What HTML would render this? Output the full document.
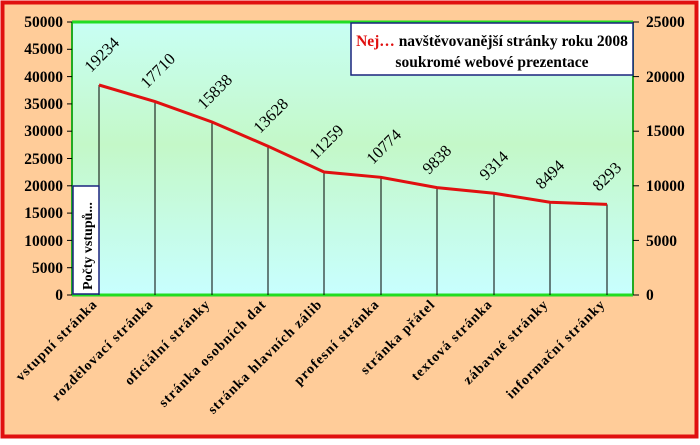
<!DOCTYPE html>
<html><head><meta charset="utf-8"><style>
body{margin:0;width:700px;height:440px;overflow:hidden;background:#fff}
</style></head><body>
<svg width="700" height="440" xmlns="http://www.w3.org/2000/svg" font-family="Liberation Serif, serif">
<defs>
<linearGradient id="g" x1="0" y1="0" x2="0" y2="1">
<stop offset="0" stop-color="#c8fff4"/>
<stop offset="0.45" stop-color="#c4f8c8"/>
<stop offset="1" stop-color="#c8ffff"/>
</linearGradient>
</defs>
<rect x="2.5" y="2.5" width="694" height="434" fill="#ffcc99" stroke="#e01010" stroke-width="4"/>
<rect x="72" y="22" width="561" height="273" fill="url(#g)"/>
<line x1="72" y1="22" x2="633" y2="22" stroke="#22dd22" stroke-width="3"/>
<line x1="72" y1="295" x2="633" y2="295" stroke="#22dd22" stroke-width="3"/>
<line x1="72" y1="22" x2="72" y2="295" stroke="#22aa22" stroke-width="2"/>
<line x1="633" y1="22" x2="633" y2="295" stroke="#22aa22" stroke-width="2"/>
<g stroke="#000" stroke-width="1">
<line x1="67" y1="22" x2="72" y2="22"/><line x1="67" y1="49.3" x2="72" y2="49.3"/><line x1="67" y1="76.6" x2="72" y2="76.6"/><line x1="67" y1="103.9" x2="72" y2="103.9"/><line x1="67" y1="131.2" x2="72" y2="131.2"/><line x1="67" y1="158.5" x2="72" y2="158.5"/><line x1="67" y1="185.8" x2="72" y2="185.8"/><line x1="67" y1="213.1" x2="72" y2="213.1"/><line x1="67" y1="240.4" x2="72" y2="240.4"/><line x1="67" y1="267.7" x2="72" y2="267.7"/><line x1="67" y1="295" x2="72" y2="295"/>
<line x1="633" y1="22" x2="639" y2="22"/><line x1="633" y1="76.6" x2="639" y2="76.6"/><line x1="633" y1="131.2" x2="639" y2="131.2"/><line x1="633" y1="185.8" x2="639" y2="185.8"/><line x1="633" y1="240.4" x2="639" y2="240.4"/><line x1="633" y1="295" x2="639" y2="295"/>
</g>
<g font-size="15.5" font-weight="bold" text-anchor="end" fill="#000">
<text x="63" y="27">50000</text><text x="63" y="54">45000</text><text x="63" y="82">40000</text><text x="63" y="109">35000</text><text x="63" y="136">30000</text><text x="63" y="164">25000</text><text x="63" y="191">20000</text><text x="63" y="218">15000</text><text x="63" y="246">10000</text><text x="63" y="273">5000</text><text x="63" y="300">0</text>
</g>
<g font-size="15.5" font-weight="bold" text-anchor="start" fill="#000">
<text x="646" y="27">25000</text><text x="646" y="82">20000</text><text x="646" y="136">15000</text><text x="646" y="191">10000</text><text x="646" y="246">5000</text><text x="646" y="300">0</text>
</g>
<g stroke="#000" stroke-width="1">
<line x1="99" y1="85" x2="99" y2="295"/><line x1="155" y1="101.6" x2="155" y2="295"/><line x1="212" y1="122" x2="212" y2="295"/><line x1="268" y1="146.2" x2="268" y2="295"/><line x1="324" y1="172" x2="324" y2="295"/><line x1="381" y1="177.3" x2="381" y2="295"/><line x1="437" y1="187.6" x2="437" y2="295"/><line x1="494" y1="193.3" x2="494" y2="295"/><line x1="550" y1="202.2" x2="550" y2="295"/><line x1="607" y1="204.4" x2="607" y2="295"/>
</g>
<polyline fill="none" stroke="#e01010" stroke-width="3" points="99,85 155,101.6 212,122 268,146.2 324,172 381,177.3 437,187.6 494,193.3 550,202.2 607,204.4"/>
<g font-size="16.5" fill="#000">
<text transform="translate(91,73) rotate(-45)">19234</text>
<text transform="translate(147,89) rotate(-45)">17710</text>
<text transform="translate(204,110) rotate(-45)">15838</text>
<text transform="translate(260,134) rotate(-45)">13628</text>
<text transform="translate(316,160) rotate(-45)">11259</text>
<text transform="translate(373,165) rotate(-45)">10774</text>
<text transform="translate(429,175) rotate(-45)">9838</text>
<text transform="translate(486,181) rotate(-45)">9314</text>
<text transform="translate(542,190) rotate(-45)">8494</text>
<text transform="translate(599,192) rotate(-45)">8293</text>
</g>
<g font-size="14" font-weight="bold" text-anchor="end" fill="#000" letter-spacing="1">
<text transform="translate(98,305) rotate(-45)">vstupní stránka</text>
<text transform="translate(154,305) rotate(-45)">rozdělovací stránka</text>
<text transform="translate(211,305) rotate(-45)">oficiální stránky</text>
<text transform="translate(267,305) rotate(-45)">stránka  osobních dat</text>
<text transform="translate(323,305) rotate(-45)">stránka hlavních zálib</text>
<text transform="translate(380,305) rotate(-45)">profesní stránka</text>
<text transform="translate(436,305) rotate(-45)">stránka přátel</text>
<text transform="translate(493,305) rotate(-45)">textová stránka</text>
<text transform="translate(549,305) rotate(-45)">zábavné stránky</text>
<text transform="translate(606,305) rotate(-45)">informační stránky</text>
</g>
<rect x="73" y="186" width="26" height="108" fill="#fff" stroke="#1a237e" stroke-width="1.5"/>
<text transform="translate(92,290) rotate(-90)" font-size="14" font-weight="bold">Počty  vstupů...</text>
<rect x="351" y="23" width="282" height="52" fill="#fff" stroke="#1a237e" stroke-width="1.5"/>
<text x="492" y="46" text-anchor="middle" font-size="15.5" font-weight="bold"><tspan fill="#e01010">Nej…</tspan> navštěvovanější stránky roku 2008</text>
<text x="492" y="67" text-anchor="middle" font-size="15.5" font-weight="bold">soukromé webové prezentace</text>
</svg>
</body></html>
